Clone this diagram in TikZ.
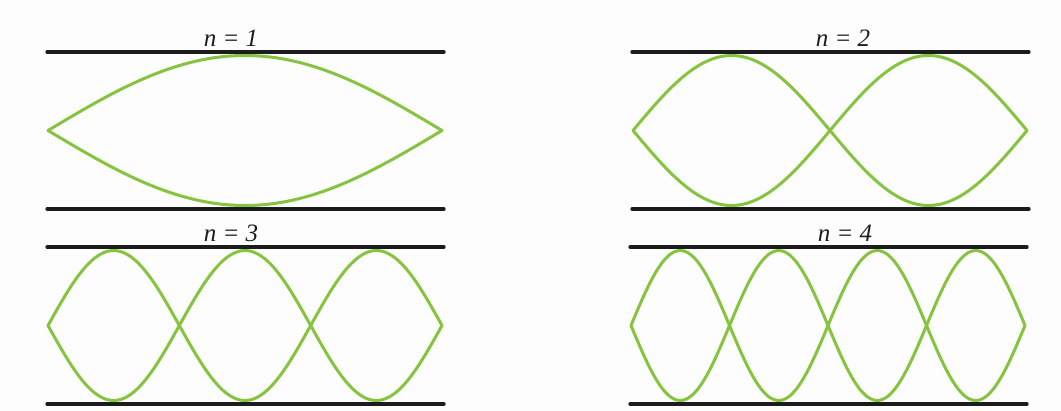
\documentclass[tikz,border=0pt]{standalone}
\usepackage{fontspec}
\setmainfont{Liberation Serif}
\usetikzlibrary{arrows.meta}
\definecolor{wave}{HTML}{86C440}
\definecolor{ink}{HTML}{1C1C1C}
\definecolor{paper}{HTML}{FCFDFC}
\tikzset{fig/.style={line join=round,line cap=round},
  wall/.style={ink,line width=3.2pt},
  mode/.style={wave,line width=3pt,smooth},
  lab/.style={font=\itshape\fontsize{25}{25}\selectfont,ink,inner sep=0pt}}
% one string between two walls, #1 = n
\newcommand{\figString}[1]{\draw[wall](0,0)--(397,0);\draw[wall](0,157)--(397,157);
  \draw[mode,domain=0:394,samples=120]plot(\x+1,{78.5-75*sin(\x*(#1*180/394))});
  \draw[mode,domain=0:394,samples=120]plot(\x+1,{78.5+75*sin(\x*(#1*180/394))});}

\begin{document}
\begin{tikzpicture}[fig,x=1pt,y=-1pt]
  \fill[paper](0,0)rectangle(1061,410);
  \begin{scope}[shift={(47,52)}]\figString{1}
   \node[lab](lab1)at(184,-14){n = 1};\end{scope}
  \begin{scope}[shift={(632,52)}]\figString{2}
   \node[lab](lab2)at(211,-14){n = 2};\end{scope}
  \begin{scope}[shift={(47,247)}]\figString{3}
   \node[lab](lab3)at(184,-14){n = 3};\end{scope}
  \begin{scope}[shift={(630,247)}]\figString{4}
   \node[lab](lab4)at(215,-14){n = 4};\end{scope}
\end{tikzpicture}
\end{document}
